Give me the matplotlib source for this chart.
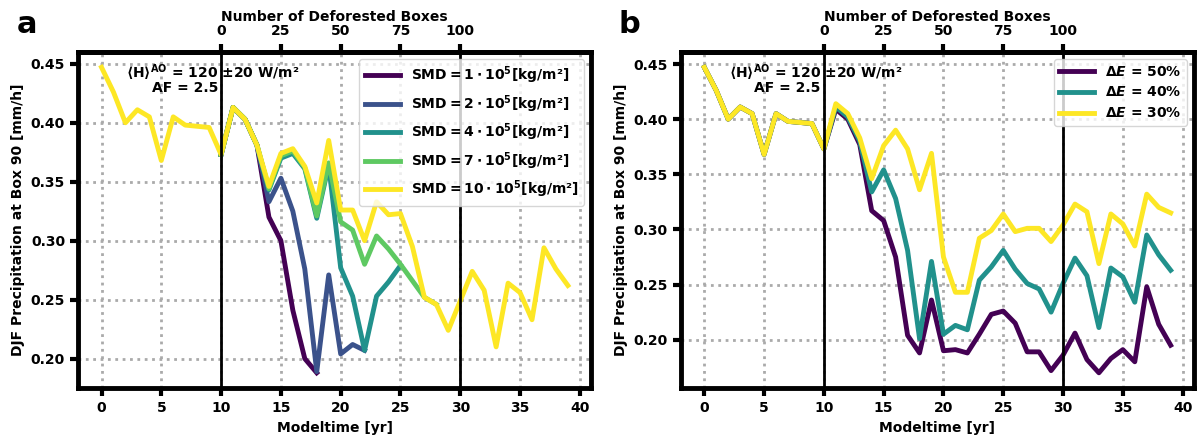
import numpy as np
import matplotlib
matplotlib.use("Agg")
import matplotlib.pyplot as plt

plt.rcParams['font.weight'] = 'bold'
plt.rcParams['axes.labelweight'] = 'bold'
plt.rcParams['font.size'] = 10
plt.rcParams['mathtext.default'] = 'bf'

# ---- panel a: soil moisture depth (SMD) ----
years = np.arange(0, 40)
yellow_a = [0.447, 0.426, 0.400, 0.411, 0.405, 0.368, 0.405, 0.398, 0.397, 0.396,
            0.373, 0.413, 0.403, 0.381, 0.346, 0.374, 0.378, 0.363, 0.332, 0.385,
            0.326, 0.326, 0.300, 0.333, 0.322, 0.323, 0.295, 0.252, 0.246, 0.224,
            0.249, 0.274, 0.258, 0.210, 0.264, 0.256, 0.233, 0.294, 0.276, 0.262]
smd1 = [0.373, 0.413, 0.403, 0.381, 0.320, 0.300, 0.241, 0.200, 0.188]
smd2 = [0.373, 0.413, 0.403, 0.381, 0.333, 0.353, 0.325, 0.276, 0.189, 0.271,
        0.204, 0.212, 0.207]
smd4 = [0.373, 0.413, 0.403, 0.381, 0.343, 0.370, 0.374, 0.361, 0.319, 0.364,
        0.277, 0.253, 0.207, 0.253, 0.265, 0.279]
smd7 = [0.373, 0.413, 0.403, 0.381, 0.344, 0.372, 0.376, 0.362, 0.321, 0.366,
        0.316, 0.309, 0.280, 0.304, 0.293, 0.280, 0.266, 0.252, 0.246]
smd_labels = [r'$\mathbf{SMD = 1 \cdot 10^5}$[kg/m²]',
              r'$\mathbf{SMD = 2 \cdot 10^5}$[kg/m²]',
              r'$\mathbf{SMD = 4 \cdot 10^5}$[kg/m²]',
              r'$\mathbf{SMD = 7 \cdot 10^5}$[kg/m²]',
              r'$\mathbf{SMD = 10 \cdot 10^5}$[kg/m²]']

# ---- panel b: evaporation change ----
de50 = [0.447, 0.426, 0.400, 0.411, 0.405, 0.368, 0.405, 0.398, 0.397, 0.396,
        0.373, 0.409, 0.400, 0.377, 0.317, 0.308, 0.275, 0.204, 0.188, 0.236,
        0.190, 0.191, 0.188, 0.205, 0.223, 0.226, 0.215, 0.189, 0.189, 0.172,
        0.186, 0.206, 0.182, 0.170, 0.183, 0.191, 0.180, 0.248, 0.214, 0.195]
de40 = [0.447, 0.426, 0.400, 0.411, 0.405, 0.368, 0.405, 0.398, 0.397, 0.396,
        0.373, 0.411, 0.402, 0.380, 0.334, 0.354, 0.328, 0.281, 0.201, 0.271,
        0.205, 0.213, 0.209, 0.254, 0.266, 0.281, 0.264, 0.251, 0.246, 0.225,
        0.251, 0.274, 0.258, 0.211, 0.265, 0.257, 0.234, 0.295, 0.277, 0.263]
de30 = [0.447, 0.426, 0.400, 0.411, 0.405, 0.368, 0.405, 0.398, 0.397, 0.396,
        0.373, 0.414, 0.405, 0.383, 0.346, 0.376, 0.390, 0.373, 0.336, 0.369,
        0.275, 0.243, 0.243, 0.292, 0.299, 0.314, 0.298, 0.301, 0.301, 0.289,
        0.304, 0.323, 0.316, 0.269, 0.314, 0.305, 0.285, 0.332, 0.320, 0.315]
de_labels = [r'$\mathbf{\Delta}\mathbfit{E}$ = 50%',
             r'$\mathbf{\Delta}\mathbfit{E}$ = 40%',
             r'$\mathbf{\Delta}\mathbfit{E}$ = 30%']

cmap = plt.get_cmap('viridis')
fig, (ax1, ax2) = plt.subplots(1, 2, figsize=(12.03, 4.41), dpi=100)
fig.subplots_adjust(left=0.065, right=0.9925, bottom=0.12, top=0.882, wspace=0.175)

lw = 3.5
ax1.plot(years[10:10 + len(smd1)], smd1, color=cmap(0.0), lw=lw, label=smd_labels[0])
ax1.plot(years[10:10 + len(smd2)], smd2, color=cmap(0.25), lw=lw, label=smd_labels[1])
ax1.plot(years[10:10 + len(smd4)], smd4, color=cmap(0.5), lw=lw, label=smd_labels[2])
ax1.plot(years[10:10 + len(smd7)], smd7, color=cmap(0.75), lw=lw, label=smd_labels[3])
ax1.plot(years, yellow_a, color=cmap(1.0), lw=lw, label=smd_labels[4])

ax2.plot(years, de50, color=cmap(0.0), lw=lw, label=de_labels[0])
ax2.plot(years, de40, color=cmap(0.5), lw=lw, label=de_labels[1])
ax2.plot(years, de30, color=cmap(1.0), lw=lw, label=de_labels[2])

for ax, letter, lx in [(ax1, 'a', -0.119), (ax2, 'b', -0.122)]:
    ax.axvline(10, color='black', lw=2)
    ax.axvline(30, color='black', lw=2)
    ax.set_xticks(np.arange(0, 41, 5))
    ax.set_yticks([0.20, 0.25, 0.30, 0.35, 0.40, 0.45])
    ax.grid(True, linestyle=':', color='#aaaaaa', lw=2)
    for s in ax.spines.values():
        s.set_linewidth(3.5)
    ax.tick_params(width=3, length=6, labelsize=10)
    ax.set_xlabel('Modeltime [yr]', fontsize=10, fontweight='bold')
    ax.set_ylabel('DJF Precipitation at Box 90 [mm/h]', fontsize=10, fontweight='bold')
    sec = ax.secondary_xaxis('top', functions=(lambda x: (x - 10) * 5, lambda b: b / 5 + 10))
    sec.set_xticks([0, 25, 50, 75, 100])
    sec.tick_params(width=3, length=6, labelsize=10, pad=4)
    sec.spines['top'].set_linewidth(3.5)
    sec.set_xlabel('Number of Deforested Boxes', fontsize=10, fontweight='bold', labelpad=2)
    ax.text(0.093, 0.94, r'$\langle$H$\rangle^{AO}$ = 120 $\pm$20 W/m²',
            transform=ax.transAxes, ha='left', va='center', fontsize=10, fontweight='bold')
    ax.text(0.143, 0.893, 'AF = 2.5', transform=ax.transAxes, ha='left', va='center',
            fontsize=10, fontweight='bold')
    ax.text(lx, 1.056, letter, transform=ax.transAxes, fontsize=22, fontweight='bold',
            ha='left', va='baseline')
    ax.legend(loc='upper right', prop={'weight': 'bold', 'size': 10}, handlelength=2.5)

plt.savefig('out.png', dpi=100)
